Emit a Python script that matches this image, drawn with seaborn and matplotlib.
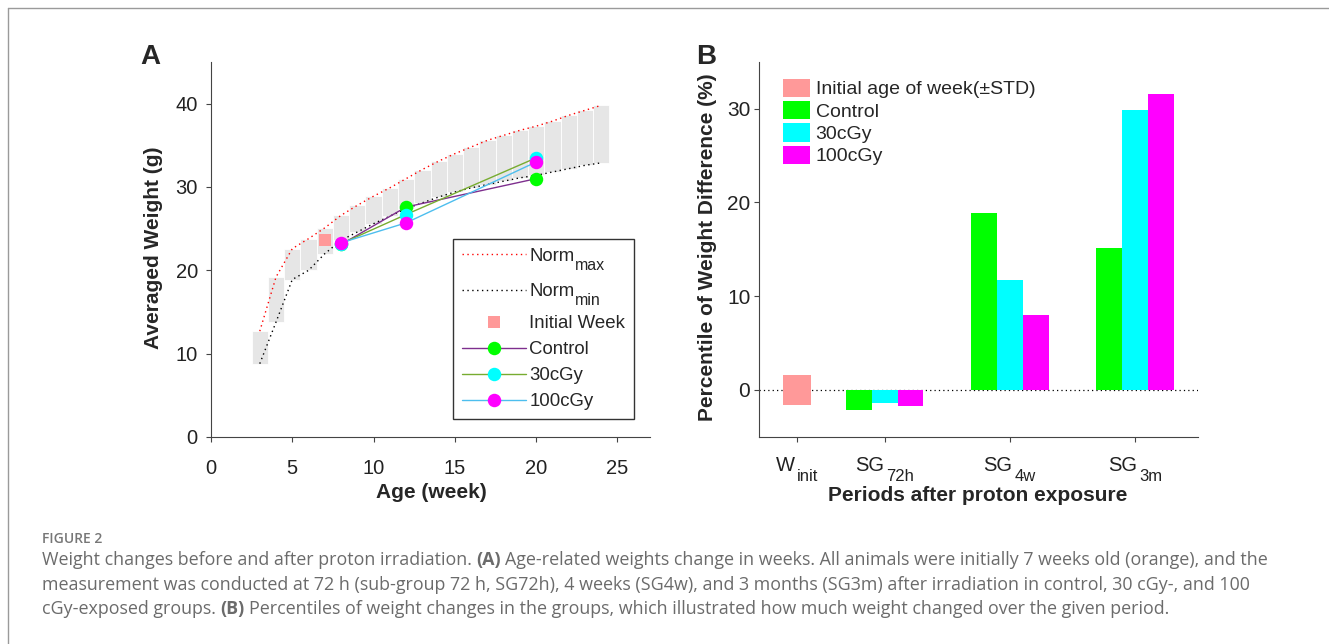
import numpy as np
import pandas as pd
import matplotlib
matplotlib.use("Agg")
import matplotlib.pyplot as plt
import seaborn as sns
from matplotlib.lines import Line2D
from matplotlib.patches import Patch
from matplotlib.legend_handler import HandlerLine2D

# ---------------- data: panel A ----------------
norm_weeks = [3, 4, 5, 6, 7, 8, 9, 10, 11, 12, 13, 14, 15, 16, 17, 18, 19, 20, 21, 22, 23, 24]
norm_max = [12.7, 19.2, 22.6, 23.8, 25.1, 26.6, 27.8, 28.9, 29.9, 31.0, 32.1, 33.1,
            34.0, 34.8, 35.6, 36.2, 36.8, 37.3, 37.9, 38.6, 39.2, 39.8]
norm_min = [8.8, 13.8, 18.9, 20.0, 22.0, 23.6, 24.6, 25.6, 26.5, 27.4, 28.1, 28.8,
            29.4, 29.9, 30.3, 30.7, 31.1, 31.4, 31.8, 32.2, 32.6, 32.9]
initial_week = [7]
initial_weight = [23.7]
group_names = ["Control", "30cGy", "100cGy"]
meas_weeks = [8, 12, 20]
control_weight = [23.1, 27.6, 31.0]
cgy30_weight = [23.2, 26.7, 33.5]
cgy100_weight = [23.3, 25.7, 33.0]
norm_label_main = ["Norm", "Norm"]
norm_label_sub = ["max", "min"]

# ---------------- data: panel B ----------------
init_label = "W_init"
sg_periods = ["SG72h", "SG4w", "SG3m"]
initial_std = [1.6]
control_pct = [-2.2, 18.9, 15.1]
cgy30_pct = [-1.4, 11.7, 29.9]
cgy100_pct = [-1.7, 8.0, 31.6]
period_tick_main = ["W", "SG", "SG", "SG"]
period_tick_sub = ["init", "72h", "4w", "3m"]

# ---------------- style ----------------
sns.set_style("ticks")
plt.rcParams["font.family"] = ["Liberation Sans", "DejaVu Sans"]
plt.rcParams["mathtext.default"] = "regular"
plt.rcParams["axes.linewidth"] = 0.8

salmon = "#FF9999"
marker_colors = ["#00FF00", "#00FFFF", "#FF00FF"]
line_colors = ["#7E2F8E", "#77AC30", "#4DBEEE"]
spine_col = "#444444"
tick_txt_col = "#222222"

W, H = 1329, 644
fig = plt.figure(figsize=(W / 100, H / 100), dpi=100)
renderer = fig.canvas.get_renderer()
axA = fig.add_axes([211 / W, 1 - 437 / H, 439 / W, 375 / H])
axB = fig.add_axes([759.3 / W, 1 - 436.7 / H, 438.7 / W, 375 / H])


def text_width(txt, size, family=None, bold=False):
    kw = {} if family is None else {"family": family}
    t = fig.text(0, 0, txt, fontsize=size, fontweight="bold" if bold else "normal", **kw)
    w = t.get_window_extent(renderer).width
    t.remove()
    return w


class HandlerLineSubscript(HandlerLine2D):
    """Line handler that leaves extra room below the row for a subscript."""

    def __init__(self, extra_pt, **kw):
        super().__init__(**kw)
        self.extra_pt = extra_pt

    def legend_artist(self, legend, orig_handle, fontsize, handlebox):
        art = super().legend_artist(legend, orig_handle, fontsize, handlebox)
        handlebox.ydescent += self.extra_pt
        handlebox.height += self.extra_pt
        return art


# ================= Panel A =================
axA.bar(norm_weeks, np.subtract(norm_max, norm_min), bottom=norm_min, width=1.0,
        color="#E6E6E6", edgecolor="white", linewidth=0.6, zorder=1)
dot = (0, (1, 2.5))
sns.lineplot(x=norm_weeks, y=norm_max, color="red", linestyle=dot, lw=1.0, ax=axA, zorder=2)
sns.lineplot(x=norm_weeks, y=norm_min, color="black", linestyle=dot, lw=1.0, ax=axA, zorder=2)
sns.scatterplot(x=initial_week, y=initial_weight, marker="s", s=66, color=salmon,
                linewidth=0, ax=axA, zorder=3)
for vals, lc, mc in zip([control_weight, cgy30_weight, cgy100_weight], line_colors, marker_colors):
    sns.lineplot(x=meas_weeks, y=vals, color=lc, lw=1.0, marker="o", markersize=9.7,
                 markerfacecolor=mc, markeredgecolor=mc, markeredgewidth=0, ax=axA, zorder=4)

axA.set_xlim(0, 27)
axA.set_ylim(0, 45)
axA.set_xticks([0, 5, 10, 15, 20, 25])
axA.set_yticks([0, 10, 20, 30, 40])
axA.set_xlabel("Age (week)", fontsize=15, fontweight="bold")
axA.set_ylabel("Averaged Weight (g)", fontsize=15, fontweight="bold")
axA.xaxis.set_label_coords(0.501, -0.149)
axA.xaxis.label.set_va("center")
axA.yaxis.set_label_coords(-0.132, 0.505)
axA.yaxis.label.set_va("center")
axA.tick_params(axis="x", direction="out", length=3.5, width=0.8, color=spine_col,
                labelsize=14.5, labelcolor=tick_txt_col, pad=12)
axA.tick_params(axis="y", direction="out", length=3.5, width=0.8, color=spine_col,
                labelsize=14.5, labelcolor=tick_txt_col, pad=6)

norm_max_handle = Line2D([], [], color="red", linestyle=dot, lw=1.0)
norm_min_handle = Line2D([], [], color="black", linestyle=dot, lw=1.0)
legA_handles = [
    norm_max_handle,
    norm_min_handle,
    Line2D([], [], linestyle="none", marker="s", markersize=8, color=salmon, markeredgewidth=0),
]
for lc, mc in zip(line_colors, marker_colors):
    legA_handles.append(Line2D([], [], color=lc, lw=1.0, marker="o", markersize=9.7,
                               markerfacecolor=mc, markeredgecolor=mc, markeredgewidth=0))
legA_labels = norm_label_main + ["Initial Week"] + group_names
legA = axA.legend(legA_handles, legA_labels, loc="lower right", bbox_to_anchor=(0.9636, 0.048),
                  borderaxespad=0, fontsize=13.4, handlelength=3.4, handletextpad=0.2,
                  borderpad=0.475, labelspacing=0.48, fancybox=False, framealpha=1,
                  handler_map={norm_max_handle: HandlerLineSubscript(9.7),
                               norm_min_handle: HandlerLineSubscript(7.3)})
legA.get_frame().set_edgecolor("#333333")
legA.get_frame().set_linewidth(1.0)
for txt_artist, sub in zip(legA.get_texts()[:2], norm_label_sub):
    axA.annotate(sub, xy=(1, 0), xycoords=txt_artist, xytext=(0.6, -3.7),
                 textcoords="offset points", fontsize=11.5, ha="left", va="baseline",
                 zorder=7, annotation_clip=False)

# ================= Panel B =================
period_pos = {"W_init": 0.3, "SG72h": 1, "SG4w": 2, "SG3m": 3}
df_b = pd.DataFrame({
    "period": np.repeat(sg_periods, 3),
    "group": group_names * len(sg_periods),
    "pct": np.column_stack([control_pct, cgy30_pct, cgy100_pct]).ravel(),
})
df_b["pos"] = df_b["period"].map(period_pos)

axB.axhline(0, color="black", linestyle=dot, lw=0.9, zorder=0.5)
axB.bar([period_pos[init_label]], [2 * initial_std[0]], bottom=[-initial_std[0]], width=0.22,
        color=salmon, linewidth=0, zorder=1)
sns.barplot(data=df_b, x="pos", y="pct", hue="group", hue_order=group_names,
            palette=marker_colors, native_scale=True, width=0.62, dodge=True,
            errorbar=None, saturation=1, linewidth=0, legend=False, ax=axB)

axB.set_xlim(0, 3.5)
axB.set_ylim(-5, 35)
axB.set_yticks([0, 10, 20, 30])
tick_positions = [period_pos[p] for p in [init_label] + sg_periods]
axB.set_xticks(tick_positions, [""] * len(tick_positions))
axB.set_xlabel("Periods after proton exposure", fontsize=15, fontweight="bold")
axB.set_ylabel("Percentile of Weight Difference (%)", fontsize=15, fontweight="bold")
axB.xaxis.set_label_coords(0.4985, -0.1555)
axB.xaxis.label.set_va("center")
axB.yaxis.set_label_coords(-0.117, 0.505)
axB.yaxis.label.set_va("center")
axB.tick_params(axis="x", direction="out", length=3.5, width=0.8, color=spine_col)
axB.tick_params(axis="y", direction="out", length=3.5, width=0.8, color=spine_col,
                labelsize=15, labelcolor=tick_txt_col, pad=3)

# tick labels with large subscripts
main_size, sub_size, gap_px = 14.5, 12.0, 2.5
for pos, m, s in zip(tick_positions, period_tick_main, period_tick_sub):
    wm = text_width(m, main_size)
    ws = text_width(s, sub_size)
    start_pt = -(wm + gap_px + ws) / 2 * 0.72
    axB.annotate(m, xy=(pos, 0), xycoords=axB.get_xaxis_transform(), xytext=(start_pt, -24.7),
                 textcoords="offset points", fontsize=main_size, ha="left", va="baseline",
                 color=tick_txt_col, annotation_clip=False)
    axB.annotate(s, xy=(pos, 0), xycoords=axB.get_xaxis_transform(),
                 xytext=(start_pt + (wm + gap_px) * 0.72, -31.7),
                 textcoords="offset points", fontsize=sub_size, ha="left", va="baseline",
                 color=tick_txt_col, annotation_clip=False)

legB_handles = [Patch(facecolor=salmon, linewidth=0)] + [Patch(facecolor=c, linewidth=0) for c in marker_colors]
legB_labels = ["Initial age of week(\u00b1STD)"] + group_names
axB.legend(legB_handles, legB_labels, loc="upper left", bbox_to_anchor=(0.055, 0.955),
           borderaxespad=0, borderpad=0, frameon=False, fontsize=14,
           handlelength=1.39, handleheight=1.08, handletextpad=0.27, labelspacing=0.13)

for ax in (axA, axB):
    for s in ("top", "right"):
        ax.spines[s].set_visible(False)
    for s in ("left", "bottom"):
        ax.spines[s].set_color(spine_col)
        ax.spines[s].set_linewidth(0.8)

# panel letters
fig.text(150 / W, 1 - 57 / H, "A", fontsize=20, fontweight="bold", ha="center", va="center")
fig.text(706 / W, 1 - 57 / H, "B", fontsize=20, fontweight="bold", ha="center", va="center")

# page frame
fig.add_artist(Line2D([7.5 / W, 7.5 / W], [0, 1 - 7.5 / H], transform=fig.transFigure,
                      color="#9a9a9a", lw=1.0))
fig.add_artist(Line2D([7.5 / W, 1], [1 - 7.5 / H, 1 - 7.5 / H], transform=fig.transFigure,
                      color="#9a9a9a", lw=1.0))

# ---------------- caption ----------------
cap_font = ["Open Sans", "DejaVu Sans"]
cap_col = "#6b6b6b"

line1 = [("Weight changes before and after proton irradiation.", False), ("(A)", True),
         ("Age-related weights change in weeks. All animals were initially 7 weeks old (orange), and the", False)]
line2 = [("measurement was conducted at 72 h (sub-group 72 h, SG72h), 4 weeks (SG4w), and 3 months (SG3m) after irradiation in control, 30 cGy-, and 100", False)]
line3 = [("cGy-exposed groups.", False), ("(B)", True),
         ("Percentiles of weight changes in the groups, which illustrated how much weight changed over the given period.", False)]

x0 = 41.7
base = 12.0
sp = text_width("n n", base, cap_font) - text_width("nn", base, cap_font)
w1 = sum(text_width(t, base, cap_font, b) for t, b in line1) + sp * (len(line1) - 1)
cap_size = base * (1266.7 - x0) / w1


def draw_line(segs, y_px):
    spw = text_width("n n", cap_size, cap_font) - text_width("nn", cap_size, cap_font)
    x = x0
    for txt, b in segs:
        t = fig.text(x / W, 1 - y_px / H, txt, fontsize=cap_size, family=cap_font,
                     fontweight="bold" if b else "normal", color=cap_col, ha="left", va="baseline")
        x += t.get_window_extent(renderer).width + spw


fig.text(x0 / W, 1 - 543.3 / H, "FIGURE 2", fontsize=10, family=cap_font, fontweight="semibold",
         color="#777777", ha="left", va="baseline")
draw_line(line1, 565)
draw_line(line2, 590)
draw_line(line3, 614)

fig.savefig("out.png", dpi=100)
